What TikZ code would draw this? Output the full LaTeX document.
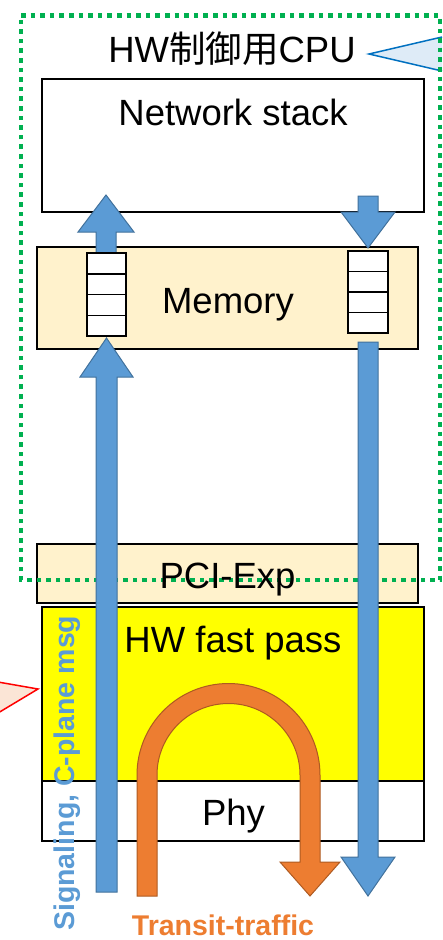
\documentclass[tikz,border=0pt]{standalone}
\usepackage{fontspec}
\setmainfont{Liberation Sans}
\newfontfamily\cjkfont{Noto Sans CJK JP}
\definecolor{memfill}{HTML}{FFF2CC}
\definecolor{hwyellow}{HTML}{FFFF00}
\definecolor{arrblue}{HTML}{5B9BD5}
\definecolor{arrblueline}{HTML}{41719C}
\definecolor{arrorange}{HTML}{ED7D31}
\definecolor{arrorangeline}{HTML}{AE5A21}
\definecolor{grn}{HTML}{00B050}
\definecolor{callblue}{HTML}{DEEBF7}
\definecolor{calllineblue}{HTML}{0070C0}
\definecolor{callpink}{HTML}{FBE5D6}
\begin{document}
\begin{tikzpicture}[x=1pt,y=-1pt,
  boxline/.style={draw=black,line width=1.5pt},
  bigtext/.style={font=\fontsize{36.5}{40}\selectfont,inner sep=0pt,anchor=base},
  bluearrow/.style={fill=arrblue,draw=arrblueline,line width=1pt,line join=miter},
  orangearrow/.style={fill=arrorange,draw=arrorangeline,line width=1pt},
  queuebox/.style={fill=white,draw=black,line width=1.5pt}]
\useasboundingbox (0,0) rectangle (442,940);
% callouts
\draw[fill=callblue,draw=calllineblue,line width=1.5pt] (442,37) -- (369,54) -- (442,71);
\draw[fill=callpink,draw=red,line width=1.5pt] (-2,682) -- (38,689) -- (-2,713);
% boxes
\draw[boxline,fill=white] (42,79) rectangle (424,212);
\draw[boxline,fill=memfill] (37,247) rectangle (418,349);
\draw[boxline,fill=memfill] (37,544) rectangle (418,603);
\draw[boxline,fill=hwyellow] (42,607) rectangle (424,781);
\draw[boxline,fill=white] (42,781) rectangle (424,841);
% green dotted CPU frame
\draw[grn,line width=4.8pt,dash pattern=on 4.6pt off 5pt] (21,15.5) -- (440,15.5) -- (440,580) -- (21,580) -- cycle;
% blue arrows
\draw[bluearrow] (96,892) -- (96,377) -- (80,377) -- (106.5,338) -- (133,377) -- (117,377) -- (117,892) -- cycle;
\draw[bluearrow] (96,256) -- (96,232) -- (78,232) -- (106,195) -- (134,232) -- (116,232) -- (116,256) -- cycle;
\draw[bluearrow] (358,196) -- (378,196) -- (378,212) -- (395,212) -- (368,248) -- (341,212) -- (358,212) -- cycle;
\draw[bluearrow] (358,342) -- (378,342) -- (378,857) -- (395,857) -- (368,896) -- (341,857) -- (358,857) -- cycle;
% orange U arrow
\draw[orangearrow] (137,896) -- (137,775) arc[start angle=180,end angle=360,radius=91.5]
  -- (320,862) -- (340,862) -- (310,896) -- (280,862) -- (300,862) -- (300,775)
  arc[start angle=0,end angle=-180,radius=71.5] -- (157,896) -- cycle;
% queues
\draw[queuebox] (87,253) rectangle (126,336);
\foreach \k in {1,2,3} \draw[black,line width=1.5pt] (87,{253+\k*20.75}) -- (126,{253+\k*20.75});
\draw[queuebox] (348,251) rectangle (388,333);
\foreach \k in {1,2,3} \draw[black,line width=1.5pt] (348,{251+\k*20.5}) -- (388,{251+\k*20.5});
% texts
\node[bigtext] (cpu) at (232,62) {HW{\cjkfont 制御用}CPU};
\node[bigtext] (ns) at (233,125) {Network stack};
\node[bigtext] (mem) at (228,313) {Memory};
\node[bigtext] (pci) at (227.5,588) {PCI-Exp};
\node[bigtext] (hw) at (233,652) {HW fast pass};
\node[bigtext] (phy) at (233.5,825) {Phy};
\node[font=\fontsize{28.5}{32}\selectfont\bfseries,text=arrorange,inner sep=0pt,anchor=base] (tt) at (223,935) {Transit-traffic};
\node[font=\fontsize{28.5}{32}\selectfont\bfseries,text=arrblue,inner sep=0pt,anchor=base west,rotate=90] (sig) at (74,931) {Signaling, C-plane msg};
\end{tikzpicture}
\end{document}
